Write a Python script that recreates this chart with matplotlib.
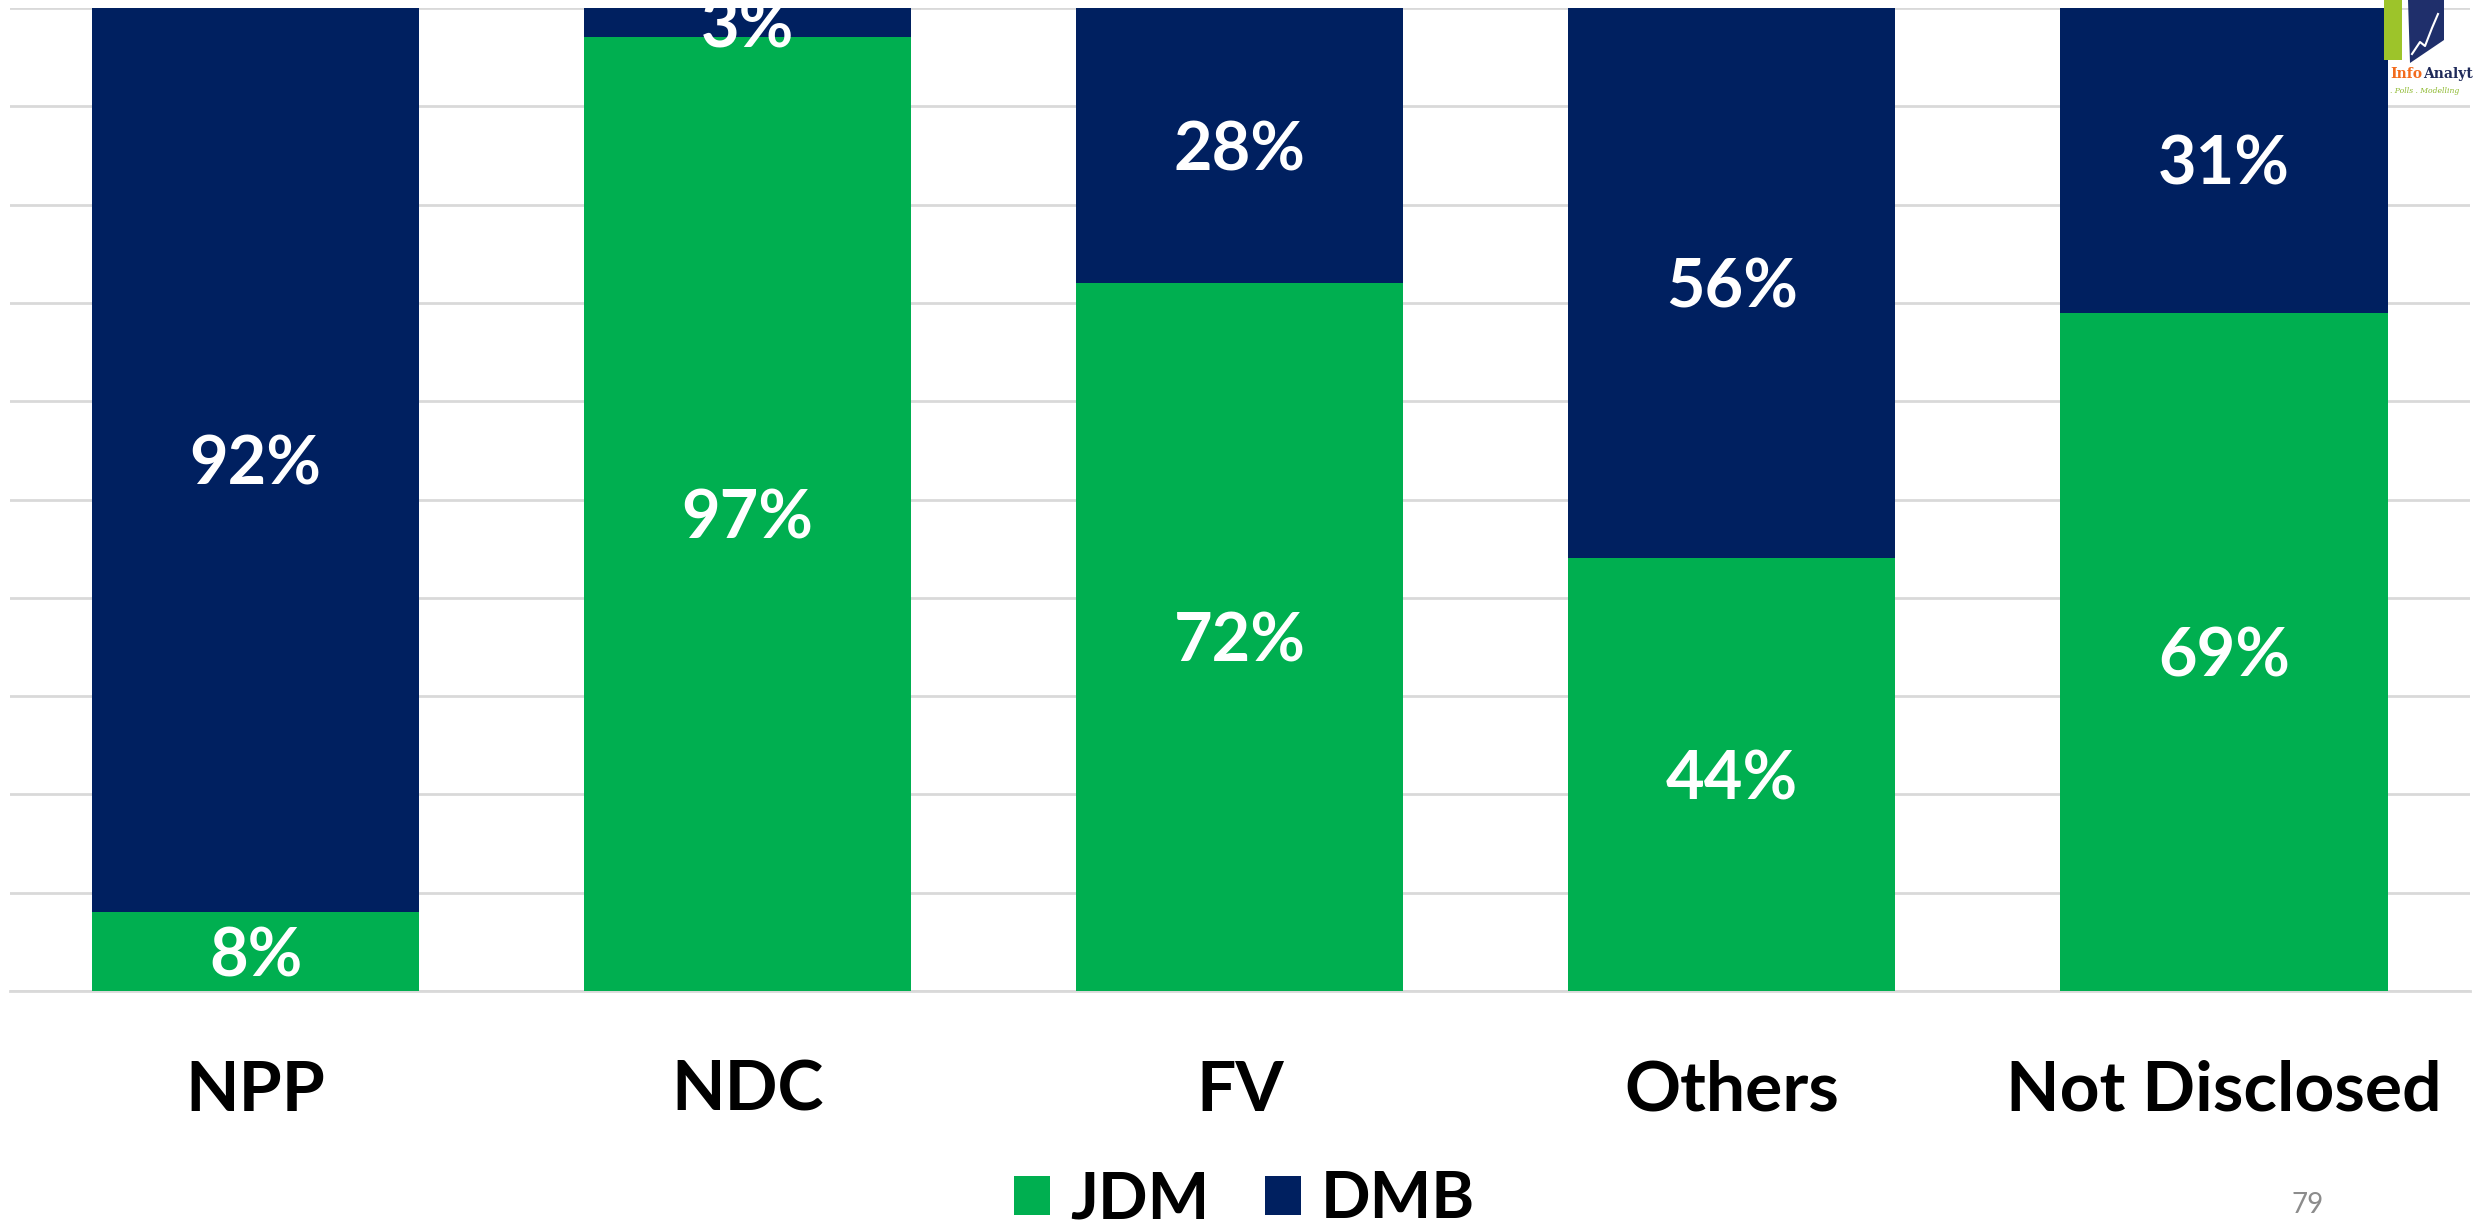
import matplotlib
matplotlib.use("Agg")
import matplotlib.pyplot as plt
from matplotlib.patches import Patch, Rectangle, Polygon
from matplotlib.lines import Line2D

categories = ["NPP", "NDC", "FV", "Others", "Not Disclosed"]
jdm = [8, 97, 72, 44, 69]
dmb = [92, 3, 28, 56, 31]
series_names = ["JDM", "DMB"]
colors = ["#00AF50", "#002060"]
page_number = "79"

plt.rcParams['font.family'] = ['Lato', 'DejaVu Sans']

W, H = 2474, 1228
fig = plt.figure(figsize=(W / 100, H / 100), dpi=100)
ax = fig.add_axes([9.6 / W, 1 - 991 / H, (2470 - 9.6) / W, (991 - 8) / H])

x = list(range(len(categories)))
bw = 0.665
ax.bar(x, jdm, width=bw, color=colors[0], zorder=3)
ax.bar(x, dmb, width=bw, bottom=jdm, color=colors[1], zorder=3)

for i in x:
    for val, ymid in ((jdm[i], jdm[i] / 2), (dmb[i], jdm[i] + dmb[i] / 2)):
        ax.annotate(f"{val}%", (i, ymid), xytext=(0, -4), textcoords="offset points",
                    ha="center", va="center", color="white", fontsize=48,
                    fontweight="bold", zorder=4, annotation_clip=False)

ax.set_xlim(-0.5, len(categories) - 0.5)
ax.set_ylim(0, 100)
ax.set_yticks(range(0, 101, 10))
ax.yaxis.grid(True, color="#d9d9d9", linewidth=2, zorder=0)
ax.tick_params(axis="y", left=False, labelleft=False)
ax.tick_params(axis="x", bottom=False, pad=46)
ax.set_xticks(x)
ax.set_xticklabels(categories, fontsize=50, fontweight="bold")
for s in ["top", "right", "left"]:
    ax.spines[s].set_visible(False)
ax.spines["bottom"].set_color("#d9d9d9")
ax.spines["bottom"].set_linewidth(2)

handles = [Patch(facecolor=c, edgecolor="none") for c in colors]
fig.legend(handles, series_names, loc="center", bbox_to_anchor=(0.503, 1 - 1200 / H),
           ncol=2, frameon=False, prop={"size": 47, "weight": "bold"},
           handlelength=0.56, handleheight=0.56, handletextpad=0.3,
           columnspacing=0.85, borderpad=0)

fig.text(2308 / W, 1 - 1205 / H, page_number, ha="center", va="center",
         fontsize=20, color="#8c8c8c")

# logo (partially cut at right edge)
fig.add_artist(Rectangle((2384 / W, 1 - 60 / H), 18 / W, 60 / H,
                         transform=fig.transFigure, facecolor="#9DC42A", edgecolor="none", zorder=5))
fig.add_artist(Polygon([(2408 / W, 1), (2444 / W, 1), (2444 / W, 1 - 40 / H), (2410 / W, 1 - 63 / H)],
                       closed=True, transform=fig.transFigure, facecolor="#1F2F6B",
                       edgecolor="none", zorder=5))
fig.add_artist(Line2D([2412 / W, 2420 / W, 2425 / W, 2432 / W, 2438 / W],
                      [1 - 54 / H, 1 - 42 / H, 1 - 46 / H, 1 - 28 / H, 1 - 14 / H],
                      transform=fig.transFigure, color="white", linewidth=1.5, zorder=6))
fig.text(2390 / W, 1 - 74 / H, "Info", ha="left", va="center", fontsize=10,
         color="#F26B1D", fontweight="bold", family="DejaVu Serif", zorder=6)
fig.text(2423 / W, 1 - 74 / H, "Analyt", ha="left", va="center", fontsize=10,
         color="#1F2A5A", fontweight="bold", family="DejaVu Serif", zorder=6)
fig.text(2390 / W, 1 - 91 / H, ". Polls . Modelling", ha="left", va="center",
         fontsize=5.5, color="#8DB92E", style="italic", family="DejaVu Serif", zorder=6)

fig.savefig("out.png", dpi=100)
